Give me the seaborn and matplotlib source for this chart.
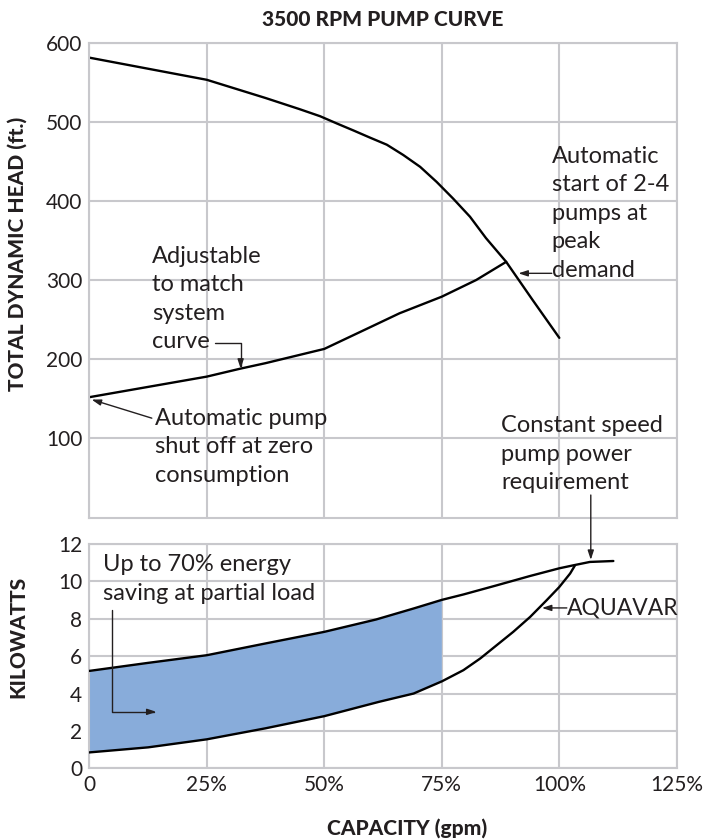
import matplotlib
matplotlib.use("Agg")
import matplotlib.pyplot as plt
import numpy as np
import pandas as pd
import seaborn as sns

# --- pump head curve at 3500 rpm (capacity in % of rated, head in ft) ---
capacity_pump = [0, 12.5, 25, 37.5, 44.7, 49.1, 52.6, 56.2, 59.7, 63.3, 66.8, 70.4,
                 73.9, 77.4, 81, 84.4, 88.7, 94.3, 100]
head_pump = [581, 567, 553, 530, 516, 507, 498, 489, 480, 471, 458, 443,
             424, 403, 380, 353, 323, 275, 227]

# --- system curve (variable speed operating line) ---
capacity_system = [0, 12.5, 25, 32.1, 37.5, 50, 58.9, 66, 75, 82.3, 88.7]
head_system = [152, 165, 178, 188, 195, 213, 238, 258, 279, 300, 323]

# --- power draw, constant speed pump (kW) ---
capacity_const = [0, 12.5, 25, 37.5, 50, 61, 69, 75, 79.6, 86.7, 93.8, 100, 103, 106.5, 111.5]
power_const = [5.21, 5.64, 6.05, 6.68, 7.3, 7.96, 8.55, 9.01, 9.3, 9.79, 10.29, 10.7, 10.86, 11.04, 11.09]

# --- power draw, AQUAVAR controlled pump (kW) ---
capacity_aquavar = [0, 12.5, 25, 37.5, 50, 61.7, 69, 75, 79.6, 83.2, 86.7, 90.2, 93.8,
                    97.3, 100, 102.3, 103.3]
power_aquavar = [0.85, 1.12, 1.55, 2.14, 2.79, 3.56, 4.0, 4.65, 5.25, 5.88, 6.59, 7.3, 8.1,
                 8.99, 9.7, 10.42, 10.84]

x_ticks = [0, 25, 50, 75, 100, 125]
x_tick_labels = ["0", "25%", "50%", "75%", "100%", "125%"]
head_ticks = [100, 200, 300, 400, 500, 600]
kw_ticks = [0, 2, 4, 6, 8, 10, 12]
saving_limit = 75

GRID = "#c8c8cc"
INK = "#231f20"
FILL = "#88acda"

sns.set_style("whitegrid", {"grid.color": GRID, "axes.edgecolor": GRID,
                            "axes.linewidth": 1.5, "grid.linewidth": 1.5})
plt.rcParams["font.family"] = ["Lato", "DejaVu Sans"]
plt.rcParams["text.color"] = INK

W, H = 703, 840
fig = plt.figure(figsize=(W / 100, H / 100), dpi=100)
left, right = 89.3, 676.8
top_y0, top_y1 = 42.6, 517.5
bot_y0, bot_y1 = 544, 768.3
ax_top = fig.add_axes([left / W, 1 - top_y1 / H, (right - left) / W, (top_y1 - top_y0) / H])
ax_bot = fig.add_axes([left / W, 1 - bot_y1 / H, (right - left) / W, (bot_y1 - bot_y0) / H])

df_pump = pd.DataFrame({"capacity": capacity_pump, "head": head_pump})
df_sys = pd.DataFrame({"capacity": capacity_system, "head": head_system})
df_const = pd.DataFrame({"capacity": capacity_const, "kw": power_const})
df_aq = pd.DataFrame({"capacity": capacity_aquavar, "kw": power_aquavar})

LW = 1.7
sns.lineplot(data=df_pump, x="capacity", y="head", ax=ax_top, color="black",
             lw=LW, sort=False, estimator=None)
sns.lineplot(data=df_sys, x="capacity", y="head", ax=ax_top, color="black",
             lw=LW, sort=False, estimator=None)

# energy saving band between constant speed and AQUAVAR power up to 75 %
up = df_const[df_const.capacity <= saving_limit]
lo = df_aq[df_aq.capacity <= saving_limit]
ax_bot.fill(np.r_[up.capacity, lo.capacity[::-1]], np.r_[up.kw, lo.kw[::-1]],
            color=FILL, lw=0, zorder=1.5)
sns.lineplot(data=df_const, x="capacity", y="kw", ax=ax_bot, color="black",
             lw=LW, sort=False, estimator=None, zorder=3)
sns.lineplot(data=df_aq, x="capacity", y="kw", ax=ax_bot, color="black",
             lw=LW, sort=False, estimator=None, zorder=3)

TICK_FS = 15
for ax in (ax_top, ax_bot):
    ax.set_xlim(0, 125)
    ax.set_xticks(x_ticks)
    ax.tick_params(length=0, labelsize=TICK_FS, colors=INK, pad=5)
    ax.grid(True, color=GRID, lw=1.5)
    for s in ax.spines.values():
        s.set_color(GRID)
        s.set_linewidth(1.5)
    ax.set_xlabel("")
    ax.set_ylabel("")

ax_top.set_ylim(0, 600)
ax_top.set_yticks(head_ticks)
ax_top.set_xticklabels([])
ax_bot.set_ylim(0, 12)
ax_bot.set_yticks(kw_ticks)
ax_bot.set_xticklabels(x_tick_labels)

LAB_FS = 15
LAB_W = "black"
label_x = -(left - 17.5) / (right - left)
ax_top.set_ylabel("TOTAL DYNAMIC HEAD (ft.)", fontsize=LAB_FS, fontweight=LAB_W, color=INK)
ax_top.yaxis.set_label_coords(label_x, (top_y1 - 254) / (top_y1 - top_y0))
ax_top.yaxis.label.set_va("center")
ax_bot.set_ylabel("KILOWATTS", fontsize=LAB_FS, fontweight=LAB_W, color=INK)
ax_bot.yaxis.set_label_coords(label_x, (bot_y1 - 637) / (bot_y1 - bot_y0))
ax_bot.yaxis.label.set_va("center")
ax_bot.set_xlabel("CAPACITY (gpm)", fontsize=LAB_FS, fontweight=LAB_W, color=INK)
ax_bot.xaxis.set_label_coords((407.5 - left) / (right - left), -(828 - bot_y1) / (bot_y1 - bot_y0))
ax_bot.xaxis.label.set_va("center")
fig.text((left + right) / 2 / W, 1 - 19 / H, "3500 RPM PUMP CURVE", ha="center",
         va="center", fontsize=LAB_FS, fontweight=LAB_W, color=INK)

# --- annotations (anchored at the baseline of the last line) ---
TXT_FS = 17
LS = 1.44
arrow = dict(arrowstyle="-|>,head_length=0.55,head_width=0.18", color=INK, lw=1.0,
             shrinkA=0, shrinkB=0)

ax_top.text(13.3, 214, "Adjustable\nto match\nsystem\ncurve", fontsize=TXT_FS,
            va="baseline", ha="left", linespacing=LS)
ax_top.annotate("", xy=(32.2, 188), xytext=(26.8, 220),
                arrowprops=dict(arrow, connectionstyle="angle,angleA=0,angleB=90,rad=0"))

ax_top.text(14.0, 45, "Automatic pump\nshut off at zero\nconsumption", fontsize=TXT_FS,
            va="baseline", ha="left", linespacing=LS)
ax_top.annotate("", xy=(0.5, 149), xytext=(13.3, 125.5), arrowprops=arrow)

ax_top.text(98.4, 304, "Automatic\nstart of 2-4\npumps at\npeak\ndemand", fontsize=TXT_FS,
            va="baseline", ha="left", linespacing=LS)
ax_top.annotate("", xy=(91.3, 308.5), xytext=(98.4, 308.5), arrowprops=arrow)

ax_top.text(87.7, 36, "Constant speed\npump power\nrequirement", fontsize=TXT_FS,
            va="baseline", ha="left", linespacing=LS)
ax_bot.annotate("", xy=(106.7, 11.15), xytext=(106.7, 28.4), textcoords=ax_top.transData,
                arrowprops=arrow, annotation_clip=False)

ax_bot.text(101.6, 8.58, "AQUAVAR", fontsize=16.5, va="center", ha="left")
ax_bot.annotate("", xy=(96.3, 8.58), xytext=(101.6, 8.58), arrowprops=arrow)

ax_bot.text(2.85, 9.03, "Up to 70% energy\nsaving at partial load", fontsize=TXT_FS,
            va="baseline", ha="left", linespacing=LS)
ax_bot.annotate("", xy=(14.3, 3.02), xytext=(4.77, 8.49),
                arrowprops=dict(arrow, connectionstyle="angle,angleA=90,angleB=0,rad=0"))

fig.savefig("out.png", dpi=100)
